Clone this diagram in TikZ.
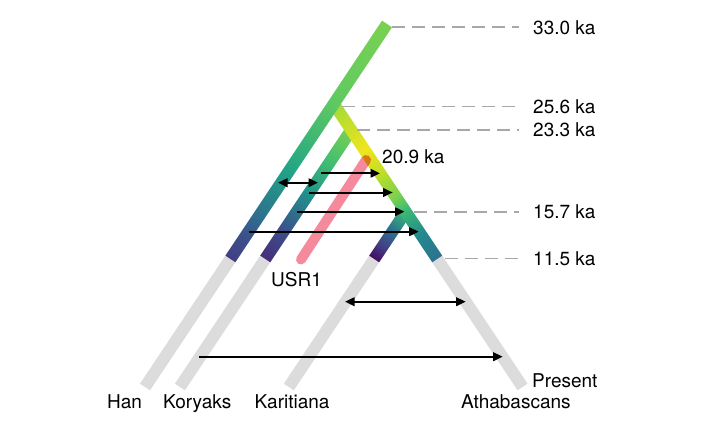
\documentclass[tikz,border=0pt]{standalone}
\usepackage{fontspec}
\setmainfont{TeX Gyre Heros}
\usetikzlibrary{arrows.meta}

% Colours of the lineages
\definecolor{vLime}{HTML}{7AD151}
\definecolor{vGreen}{HTML}{5EC962}
\definecolor{vMint}{HTML}{3DBC74}
\definecolor{vTealGreen}{HTML}{21A585}
\definecolor{vTeal}{HTML}{21918C}
\definecolor{vSea}{HTML}{23898E}
\definecolor{vPetrol}{HTML}{2C728E}
\definecolor{vBlue}{HTML}{3B528B}
\definecolor{vIndigo}{HTML}{433E85}
\definecolor{vViolet}{HTML}{472D7B}
\definecolor{vPurple}{HTML}{440C61}
\definecolor{vYellowGreen}{HTML}{A0DA39}
\definecolor{vYellow}{HTML}{F0E51C}
\definecolor{vChartreuse}{HTML}{C2DF23}
\definecolor{branchgray}{HTML}{DCDCDC}
\definecolor{guidegray}{HTML}{A8A8A8}
\definecolor{usrpink}{HTML}{F58A9D}

\pgfdeclarehorizontalshading{hanshade}{100bp}{color(0bp)=(vLime); color(25bp)=(vLime);
  color(42bp)=(vGreen); color(56bp)=(vTealGreen); color(65.5bp)=(vPetrol);
  color(70bp)=(vBlue); color(75bp)=(vIndigo); color(100bp)=(vIndigo)}
\pgfdeclarehorizontalshading{natamshade}{100bp}{color(0bp)=(vYellowGreen); color(25bp)=(vYellowGreen);
  color(39.8bp)=(vYellow); color(47bp)=(vChartreuse); color(55bp)=(vLime);
  color(59bp)=(vMint); color(67bp)=(vSea); color(75bp)=(vPetrol); color(100bp)=(vPetrol)}
\pgfdeclarehorizontalshading{koryakshade}{100bp}{color(0bp)=(vLime); color(25bp)=(vLime);
  color(38.5bp)=(vMint); color(50bp)=(vTeal); color(63.75bp)=(vBlue);
  color(75bp)=(vViolet); color(100bp)=(vViolet)}
\pgfdeclarehorizontalshading{karitianashade}{100bp}{color(0bp)=(vMint); color(25bp)=(vMint);
  color(45bp)=(vPetrol); color(62bp)=(vIndigo); color(75bp)=(vPurple); color(100bp)=(vPurple)}

\begin{document}
\begin{tikzpicture}[x=1pt,y=-1pt,
  graybar/.style={line width=12pt, color=branchgray},
  kaguide/.style={dash pattern=on 13pt off 7pt, line width=1.6pt, color=guidegray, shorten >=14pt},
  lbl/.style={anchor=base west, inner sep=0pt, font=\fontsize{19}{22}\selectfont},
  flowarrow/.style={-{Triangle[length=9.5pt,width=8.5pt]}, line width=2pt},
  botharrow/.style={{Triangle[length=9.5pt,width=8.5pt]}-{Triangle[length=9.5pt,width=8.5pt]}, line width=2pt},
  usrbar/.style={line width=10pt, line cap=round, color=usrpink}]
% Drawing environment
\fill[white] (0,0) rectangle (703,422);

% Branch points
\coordinate (top) at (387,24);
\coordinate (j1) at (333.8,103.8);
\coordinate (j2) at (351.2,130);
\coordinate (j3) at (405.7,211.7);

% End of the coloured part (11.5 ka)
\coordinate (hanE) at (230.3,259);
\coordinate (korE) at (265.2,259);
\coordinate (karE) at (374.2,259);
\coordinate (athE) at (437.2,259);

% Present day ends
\coordinate (hanB) at (145,387);
\coordinate (korB) at (179.9,387);
\coordinate (karB) at (288.8,387);
\coordinate (athB) at (522.6,387);

% Drawing grey lineages
\draw[graybar] (hanE) -- (hanB);
\draw[graybar] (korE) -- (korB);
\draw[graybar] (karE) -- (karB);
\draw[graybar] (athE) -- (athB);

% Drawing coloured lineages
\begin{scope}[transform canvas={shift={(j3)},rotate=236.31}]
\shade[shading=karitianashade] (0,-6) rectangle (56.85,6);
\end{scope}
\begin{scope}[transform canvas={shift={(j2)},rotate=236.31}]
\shade[shading=koryakshade] (0,-6) rectangle (155,6);
\end{scope}
\begin{scope}[transform canvas={shift={(j1)},rotate=-56.31}]
\shade[shading=natamshade] (0,-6) rectangle (186.5,6);
\end{scope}
\begin{scope}[transform canvas={shift={(top)},rotate=236.31}]
\shade[shading=hanshade] (0,-6) rectangle (282.4,6);
\end{scope}

% Drawing USR1
\coordinate (usrT) at (366,160);
\coordinate (usrB) at (301,259.5);
\begin{scope}[blend mode=multiply]
\draw[usrbar] (usrT) -- (usrB);
\end{scope}

% Time labels
\node[lbl] (lbl330) at (533,34.1) {33.0 ka};
\node[lbl] (lbl256) at (533,113.5) {25.6 ka};
\node[lbl] (lbl233) at (533,136.8) {23.3 ka};
\node[lbl] (lbl209) at (382,163.5) {20.9 ka};
\node[lbl] (lbl157) at (533,218.5) {15.7 ka};
\node[lbl] (lbl115) at (533,265.1) {11.5 ka};
\node[lbl] (lblnow) at (532,387.3) {Present};

% Drawing time guides
\coordinate (g330) at (392,27.3);
\coordinate (g256) at (341.5,106.7);
\coordinate (g233) at (357,130);
\coordinate (g157) at (414,211.7);
\coordinate (g115) at (445,258.3);
\draw[kaguide] (g330) -- (g330 -| lbl330.west);
\draw[kaguide] (g256) -- (g256 -| lbl256.west);
\draw[kaguide] (g233) -- (g233 -| lbl233.west);
\draw[kaguide] (g157) -- (g157 -| lbl157.west);
\draw[kaguide] (g115) -- (g115 -| lbl115.west);

% Population labels
\node[lbl] (usr) at (271,286.7) {USR1};
\node[lbl] (han) at (107,408.3) {Han};
\node[lbl] (kor) at (163,408.3) {Koryaks};
\node[lbl] (kar) at (254.5,408.3) {Karitiana};
\node[lbl] (ath) at (461,408.3) {Athabascans};

% Drawing gene flow
\coordinate (hk1) at (278,182.7);
\coordinate (hk2) at (318,182.7);
\coordinate (kn1) at (320.5,173.3);
\coordinate (kn2) at (380,173.3);
\coordinate (kn3) at (309,192.5);
\coordinate (kn4) at (392.7,192.5);
\coordinate (kn5) at (297,211.7);
\coordinate (kn6) at (404.5,211.7);
\coordinate (hn1) at (249,231.7);
\coordinate (hn2) at (418.7,231.7);
\coordinate (ka1) at (345,301.7);
\coordinate (ka2) at (465.7,301.7);
\coordinate (ha1) at (199,356.7);
\coordinate (ha2) at (502.7,356.7);
\draw[botharrow] (hk1) -- (hk2);
\draw[flowarrow] (kn1) -- (kn2);
\draw[flowarrow] (kn3) -- (kn4);
\draw[flowarrow] (kn5) -- (kn6);
\draw[flowarrow] (hn1) -- (hn2);
\draw[botharrow] (ka1) -- (ka2);
\draw[flowarrow] (ha1) -- (ha2);
\end{tikzpicture}
\end{document}
